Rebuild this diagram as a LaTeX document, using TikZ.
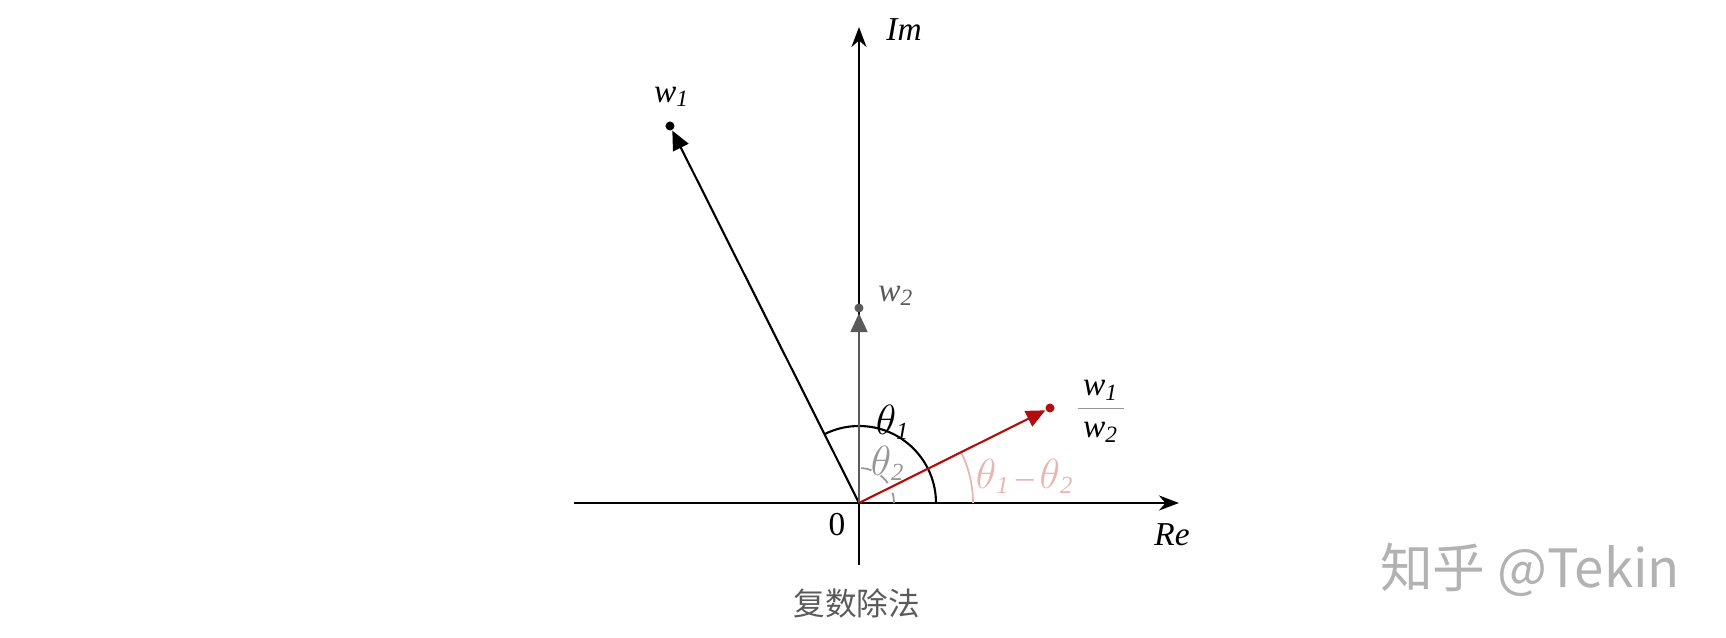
\documentclass[tikz,border=0pt]{standalone}
\usepackage{fontspec}
\setmainfont{Liberation Serif}
\newfontfamily\cjk{Noto Sans CJK SC}
\usetikzlibrary{arrows.meta}
\definecolor{vecred}{RGB}{178,12,12}
\definecolor{vecgray}{RGB}{90,90,90}
\definecolor{anggray}{RGB}{150,150,150}
\definecolor{angpink}{RGB}{232,180,180}
\tikzset{
  axis/.style={line width=0.7pt,-{Stealth[length=0.2cm,width=0.15cm]}},
  vec/.style={line width=0.6pt,-{Triangle[length=0.19cm,width=0.17cm]}},
  tip/.style={circle,fill,inner sep=0pt,minimum size=0.09cm},
  lbl/.style={font=\fontsize{9.5}{11}\selectfont\itshape}
}
\newcommand\fracpart[2]{\hbox{\color{black}\itshape\rule{0pt}{#2}\,w\textsubscript{#1}\,}}
\begin{document}
\begin{tikzpicture}
    \useasboundingbox(-8.59,-1.35)rectangle(8.67,5.03);
    \coordinate (O) at (0,0);
    \coordinate (ReL) at (-2.85,0);
    \coordinate (ReR) at (3.20,0);
    \coordinate (ImB) at (0,-0.62);
    \coordinate (ImT) at (0,4.76);
    % axes
    \draw[axis](ReL)--(ReR);
    \draw[axis](ImB)--(ImT);
    \node[lbl] (re) at (3.13,-0.32){Re};
    \node[lbl,anchor=west] (im) at (0.15,4.73){Im};
    \node[font=\fontsize{9.5}{11}\selectfont] (zero) at (-0.22,-0.22){0};
    % angles
    \draw[line width=0.6pt](0.77,0)arc(0:116.6:0.77);
    \draw[anggray,dashed,line width=0.5pt](0.35,0)arc(0:90:0.35);
    \draw[angpink,line width=0.5pt](1.14,0)arc(0:26.4:1.14);
    \node[lbl] (t1) at (0.34,0.81){\large$\theta$\normalsize\textsubscript{1}};
    \node[lbl,anggray] (t2) at (0.29,0.40){\large$\theta$\normalsize\textsubscript{2}};
    \node[lbl,angpink] (t12) at (1.66,0.27){\large$\theta$\normalsize\textsubscript{1}\,\textup{--}\,\large$\theta$\normalsize\textsubscript{2}};
    % vectors
    \node[tip] (w1) at (-1.89,3.77){};
    \node[tip,vecgray] (w2) at (0,1.95){};
    \node[tip,vecred] (q) at (1.91,0.95){};
    \draw[vec](O)--(w1);
    \draw[vec,vecgray](O)--(w2);
    \draw[vec,vecred](O)--(q);
    \node[lbl] (w1l) at (-1.87,4.06){w\textsubscript{1}};
    \node[lbl,vecgray,anchor=west] (w2l) at (0.07,2.07){w\textsubscript{2}};
    \node[lbl] (ql) at (2.42,1.0){{\color{anggray}$\displaystyle\frac{\fracpart{1}{2.1ex}}{\fracpart{2}{1.6ex}}$}};
    % caption
    \node[font=\cjk\fontsize{9}{11}\selectfont,text=vecgray] (cap) at (-0.02,-1.0){复数除法};
    \node[font=\cjk\fontsize{15}{17}\selectfont,text=black!30] (wm) at (6.71,-0.67){知乎 @Tekin};
\end{tikzpicture}
\end{document}
